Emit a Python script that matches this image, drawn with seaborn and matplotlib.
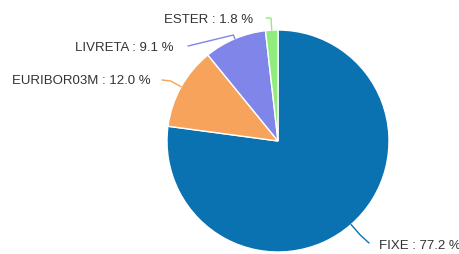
import numpy as np
import matplotlib
matplotlib.use("Agg")
import matplotlib.pyplot as plt
import seaborn as sns

# data
labels = ["FIXE", "EURIBOR03M", "LIVRETA", "ESTER"]
shares = [77.2, 12.0, 9.1, 1.8]
colors = ["#0A72B0", "#F7A35C", "#8085E9", "#90ED7D"]

# label layout (pixel coords, y down)
label_pos = [(379, 246), (151, 81), (174, 48), (253, 20)]
label_ha = ["left", "right", "right", "right"]
line_end = [(369, 243), (162, 80), (188, 46), (266, 18)]
line_out = [14, 12, 4, 12]

sns.set_style("white")
plt.rcParams["font.family"] = ["Liberation Sans", "DejaVu Sans"]

fig = plt.figure(figsize=(4.6, 2.54), dpi=100)
ax = fig.add_axes([0, 0, 1, 1])
ax.set_xlim(0, 460)
ax.set_ylim(254, 0)
ax.set_aspect("equal")
ax.axis("off")

cx, cy, r = 278, 141, 111
wedges, _ = ax.pie(shares, colors=colors, center=(cx, cy), radius=r,
                   startangle=270, counterclock=True,
                   wedgeprops={"edgecolor": "white", "linewidth": 1})
ax.set_xlim(0, 460)
ax.set_ylim(254, 0)

for w, lab, val, col, pos, ha, end, out in zip(
        wedges, labels, shares, colors, label_pos, label_ha, line_end, line_out):
    th = np.deg2rad((w.theta1 + w.theta2) / 2)
    p0 = (cx + r * np.cos(th), cy + r * np.sin(th))
    p1 = (cx + (r + out) * np.cos(th), cy + (r + out) * np.sin(th))
    ax.plot([p0[0], p1[0], end[0]], [p0[1], p1[1], end[1]], color=col, lw=1)
    ax.text(pos[0], pos[1], f"{lab} : {val:.1f} %", ha=ha, va="center",
            fontsize=9.5, color="#333333")

fig.savefig("out.png", dpi=100)
